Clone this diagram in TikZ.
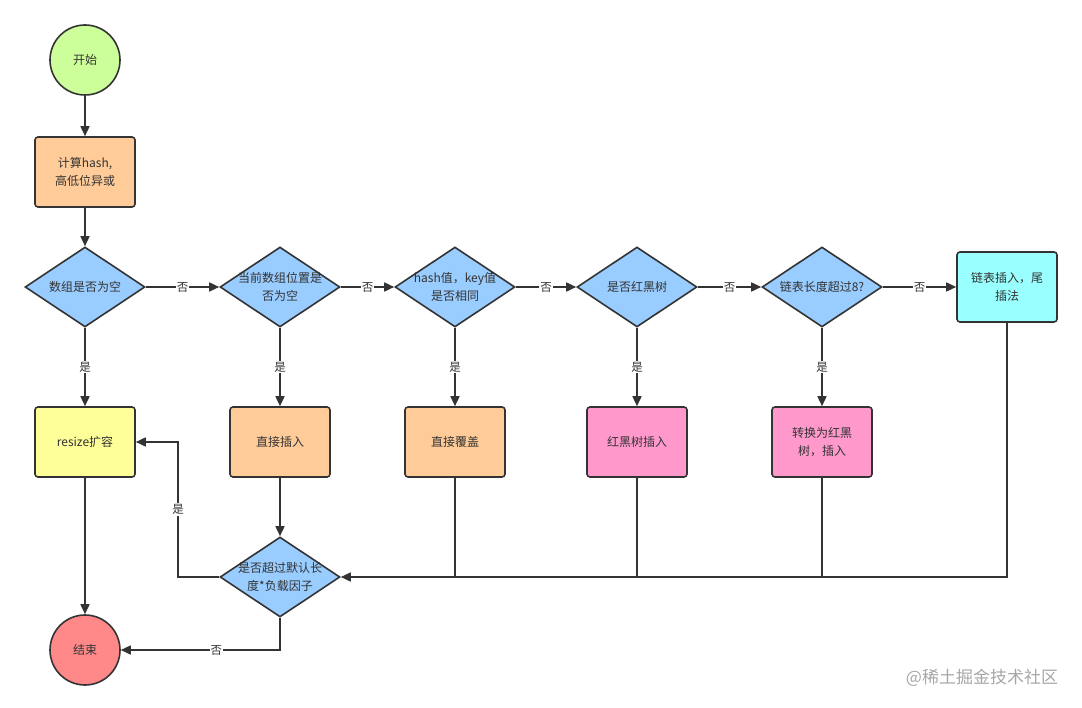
\documentclass[tikz,border=0pt]{standalone}
\usepackage{fontspec}
\setmainfont{Noto Sans CJK SC}
\usetikzlibrary{shapes.geometric,arrows.meta}

\definecolor{lineclr}{HTML}{333333}
\definecolor{startclr}{HTML}{CCFF99}
\definecolor{procclr}{HTML}{FFCC99}
\definecolor{askclr}{HTML}{99CCFF}
\definecolor{growclr}{HTML}{FFFF99}
\definecolor{treeclr}{HTML}{FF99CC}
\definecolor{tailclr}{HTML}{99FFFF}
\definecolor{stopclr}{HTML}{FF8888}

\tikzset{
  every node/.style={font=\fontsize{12}{18}\selectfont, text=lineclr, align=center},
  ends/.style={circle, draw=lineclr, line width=1.6pt, minimum size=70pt, inner sep=0pt},
  proc/.style={rectangle, rounded corners=3pt, draw=lineclr, line width=1.6pt,
               minimum width=100pt, minimum height=70pt, fill=procclr},
  ask/.style={diamond, draw=lineclr, line width=1.6pt, fill=askclr, shape aspect=1.5,
              minimum width=120pt, minimum height=80pt, inner sep=-8pt},
  lbl/.style={fill=white, inner sep=1pt, font=\fontsize{11.5}{13}\selectfont},
  arr/.style={draw=lineclr, line width=1.6pt, -{Triangle[length=10pt,width=9pt]}},
  wire/.style={draw=lineclr, line width=1.6pt},
}

\begin{document}
\begin{tikzpicture}[x=1pt,y=-1pt]
  \useasboundingbox (0,0) rectangle (1082,708);

  % first column
  \node[ends, fill=startclr] (start) at (85,60) {开始};
  \node[proc] (hash) at (85,172) {计算hash,\\高低位异或};
  \node[ask] (empty) at (85,287) {数组是否为空};

  % row of questions
  \node[ask] (slot) at (280,287) {当前数组位置是\\否为空};
  \node[ask] (same) at (455,287) {hash值，key值\\是否相同};
  \node[ask] (tree) at (637,287) {是否红黑树};
  \node[ask] (len) at (822,287) {链表长度超过8?};
  \node[proc, fill=tailclr] (tail) at (1007,287) {链表插入，尾\\插法};

  % row of actions
  \node[proc, fill=growclr] (resize) at (85,442) {resize扩容};
  \node[proc] (insert) at (280,442) {直接插入};
  \node[proc] (cover) at (455,442) {直接覆盖};
  \node[proc, fill=treeclr] (treeins) at (637,442) {红黑树插入};
  \node[proc, fill=treeclr] (convert) at (822,442) {转换为红黑\\树，插入};

  % bottom
  \node[ask] (over) at (280,577) {是否超过默认长\\度*负载因子};
  \node[ends, fill=stopclr] (stop) at (85,650) {结束};

  \coordinate (back) at (178,577);

  \draw[arr] (start) -- (hash);
  \draw[arr] (hash) -- (empty);
  \draw[arr] (empty) -- node[lbl]{否} (slot);
  \draw[arr] (slot) -- node[lbl]{否} (same);
  \draw[arr] (same) -- node[lbl]{否} (tree);
  \draw[arr] (tree) -- node[lbl]{否} (len);
  \draw[arr] (len) -- node[lbl]{否} (tail);

  \draw[arr] (empty) -- node[lbl]{是} (resize);
  \draw[arr] (slot) -- node[lbl]{是} (insert);
  \draw[arr] (same) -- node[lbl]{是} (cover);
  \draw[arr] (tree) -- node[lbl]{是} (treeins);
  \draw[arr] (len) -- node[lbl]{是} (convert);

  \draw[arr] (insert) -- (over);
  \draw[arr] (resize) -- (stop);
  \draw[arr] (tail.south) |- (over.east);
  \draw[wire] (cover.south) -- (cover.south |- over.east);
  \draw[wire] (treeins.south) -- (treeins.south |- over.east);
  \draw[wire] (convert.south) -- (convert.south |- over.east);

  \draw[arr] (over.west) -- (back) |- node[lbl, pos=0.25]{是} (resize.east);
  \draw[arr] (over.south) |- node[lbl, pos=0.7]{否} (stop.east);

  \node[text=black!35, font=\fontsize{17}{20}\selectfont] (mark) at (982,678) {@稀土掘金技术社区};
\end{tikzpicture}
\end{document}
